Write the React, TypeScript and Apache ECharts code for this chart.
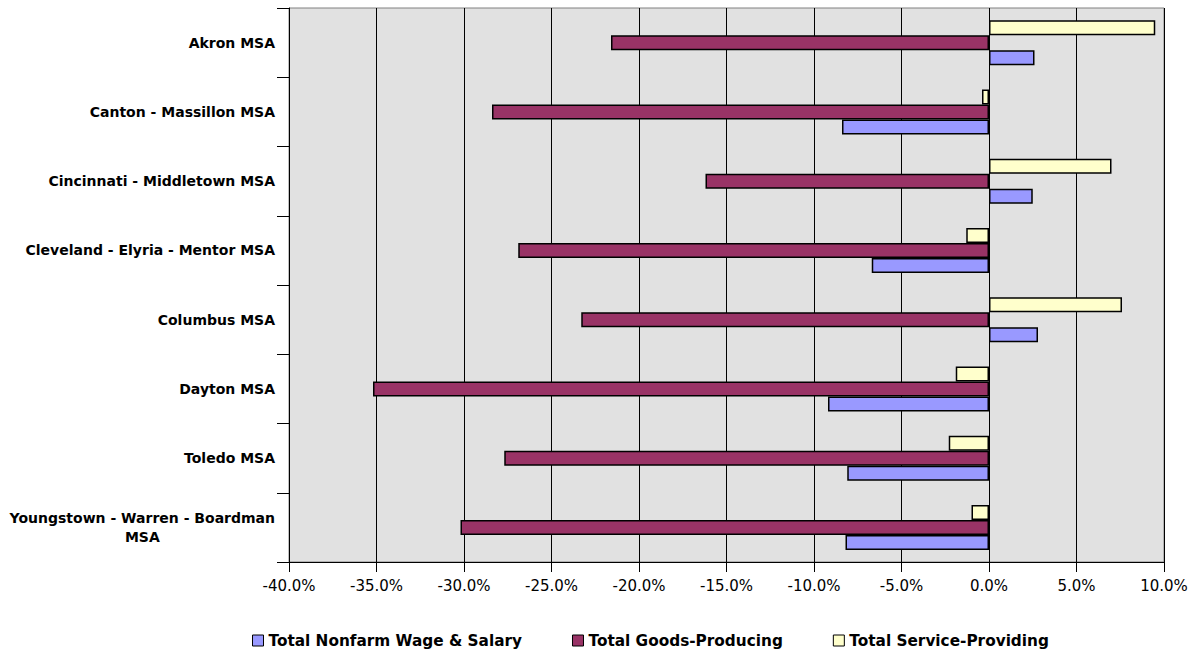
import React, { useEffect, useRef } from "react";
import * as echarts from "echarts";

const categories = [
  "Akron MSA",
  "Canton - Massillon MSA",
  "Cincinnati - Middletown MSA",
  "Cleveland - Elyria - Mentor MSA",
  "Columbus MSA",
  "Dayton MSA",
  "Toledo MSA",
  "Youngstown - Warren - Boardman\nMSA",
];
const nonfarm = [2.6, -8.4, 2.5, -6.7, 2.8, -9.2, -8.1, -8.2];
const goods = [-21.6, -28.4, -16.2, -26.9, -23.3, -35.2, -27.7, -30.2];
const service = [9.5, -0.4, 7.0, -1.3, 7.6, -1.9, -2.3, -1.0];
const seriesNames = ["Total Nonfarm Wage & Salary", "Total Goods-Producing", "Total Service-Providing"];
const colors = ["#9999ff", "#993366", "#ffffcc"];

const FONT = "DejaVu Sans, Liberation Sans, Arial, sans-serif";

export default function App() {
  const ref = useRef<HTMLDivElement>(null);
  useEffect(() => {
    const chart = echarts.init(ref.current!, null, { renderer: "svg" });
    const mk = (name: string, data: number[], color: string) => ({
      name,
      type: "bar",
      data,
      barWidth: 15,
      barGap: "0%",
      itemStyle: { color, borderColor: "#000", borderWidth: 1.5 },
    });
    chart.setOption({
      animation: false,
      grid: {
        left: 289,
        right: 31,
        top: 8,
        bottom: 88,
        show: true,
        backgroundColor: "#e1e1e1",
        borderColor: "#808080",
        borderWidth: 1,
      },
      legend: {
        left: 247,
        top: 628,
        icon: "rect",
        itemWidth: 11,
        itemHeight: 11,
        itemGap: 50,
        data: seriesNames,
        itemStyle: { borderColor: "#000", borderWidth: 1 },
        textStyle: { fontFamily: FONT, fontWeight: "bold", fontSize: 15.3, color: "#000" },
      },
      xAxis: {
        type: "value",
        min: -40,
        max: 10,
        interval: 5,
        axisLine: { show: true, lineStyle: { color: "#000" } },
        axisTick: { show: true, length: 10, lineStyle: { color: "#000" } },
        splitLine: { show: true, lineStyle: { color: "#000", width: 1 } },
        axisLabel: {
          margin: 16,
          formatter: (v: number) => v.toFixed(1) + "%",
          fontFamily: FONT,
          fontSize: 15,
          color: "#000",
        },
      },
      yAxis: {
        type: "category",
        inverse: true,
        data: categories,
        axisLine: { show: true, onZero: false, lineStyle: { color: "#000" } },
        axisTick: { show: true, length: 12, lineStyle: { color: "#000" } },
        axisLabel: {
          margin: 14,
          formatter: (v: string) => v.split("\n").map((s) => `{c|${s}}`).join("\n"),
          rich: {
            c: {
              align: "center",
              fontFamily: FONT,
              fontWeight: "bold",
              fontSize: 14,
              color: "#000",
              lineHeight: 19,
            },
          },
        },
      },
      series: [
        mk(seriesNames[2], service, colors[2]),
        mk(seriesNames[1], goods, colors[1]),
        mk(seriesNames[0], nonfarm, colors[0]),
      ],
    });
    return () => chart.dispose();
  }, []);
  return <div ref={ref} style={{ position: "absolute", left: 0, top: 0, width: 1195, height: 650 }} />;
}
